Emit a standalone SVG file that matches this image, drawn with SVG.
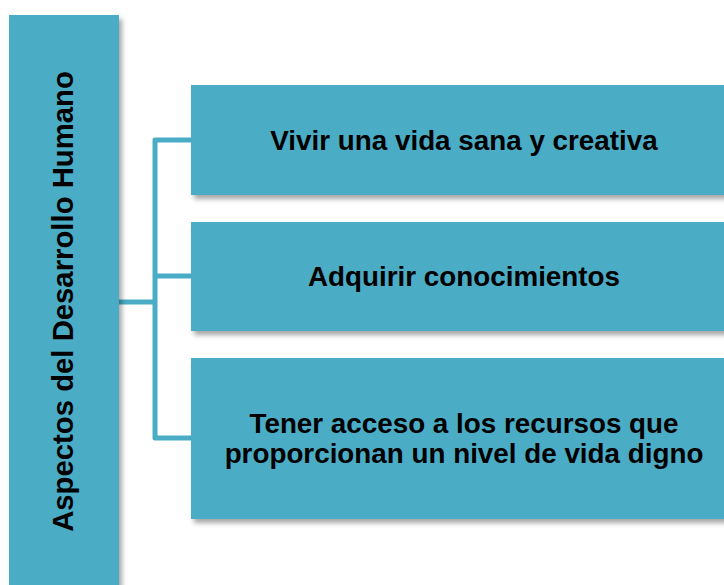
<svg xmlns="http://www.w3.org/2000/svg" width="724" height="585" viewBox="0 0 724 585">
<defs>
<filter id="sh" x="-10%" y="-10%" width="130%" height="130%">
<feDropShadow dx="3" dy="4" stdDeviation="2.5" flood-color="#000" flood-opacity="0.35"/>
</filter>
<style>
.box{fill:#4BACC6;filter:url(#sh);}
.t{font-family:"Liberation Sans",Arial,sans-serif;font-weight:bold;font-size:27.8px;fill:#000;text-anchor:middle;}
.c{fill:none;stroke:#4BACC6;stroke-width:5;stroke-linejoin:round;}
</style>
</defs>
<rect width="724" height="585" fill="#fff"/>
<g id="connectors">
<path class="c" d="M119,302 H155"/>
<path class="c" d="M191,140 H155 V438 H191"/>
<path class="c" d="M155,276 H191"/>
</g>
<g id="root">
<rect class="box" x="9" y="15" width="110" height="580"/>
<text class="t" style="font-size:29.3px" transform="translate(73,301.5) rotate(-90)">Aspectos del Desarrollo Humano</text>
</g>
<g id="n1">
<rect class="box" x="191" y="85" width="546" height="110"/>
<text class="t" x="464" y="149.5">Vivir una vida sana y creativa</text>
</g>
<g id="n2">
<rect class="box" x="191" y="222" width="546" height="109"/>
<text class="t" x="464" y="285.5">Adquirir conocimientos</text>
</g>
<g id="n3">
<rect class="box" x="191" y="358" width="546" height="161"/>
<text class="t" x="464" y="433">Tener acceso a los recursos que</text>
<text class="t" x="464" y="462.5">proporcionan un nivel de vida digno</text>
</g>
</svg>
